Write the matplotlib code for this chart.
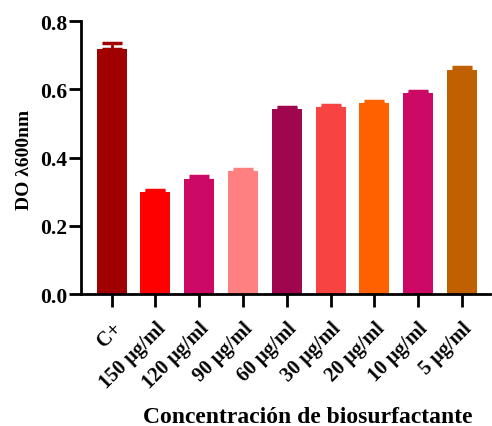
import matplotlib
matplotlib.use("Agg")
import matplotlib.pyplot as plt

categories = ["C+", "150 μg/ml", "120 μg/ml", "90 μg/ml", "60 μg/ml",
              "30 μg/ml", "20 μg/ml", "10 μg/ml", "5 μg/ml"]
means = [0.718, 0.298, 0.336, 0.362, 0.542, 0.547, 0.560, 0.588, 0.658]
errors = [0.019, 0.008, 0.009, 0.005, 0.007, 0.006, 0.006, 0.007, 0.007]
colors = ["#A00000", "#FF0000", "#CC0A66", "#FF8080", "#A0064E",
          "#F84343", "#FF6000", "#CC0A66", "#C06000"]

plt.rcParams["font.family"] = ["Liberation Serif", "DejaVu Serif"]
plt.rcParams["font.weight"] = "bold"

fig = plt.figure(figsize=(4.92, 4.27), dpi=100)
ax = fig.add_axes([0.1646, 0.309, 0.8314, 0.6393])

x = list(range(len(categories)))
ax.bar(x, means, width=0.685, color=colors, zorder=2)
for xi, m, e, c in zip(x, means, errors, colors):
    ax.errorbar(xi, m, yerr=[[0], [e]], fmt="none", ecolor=c,
                elinewidth=2, capsize=7, capthick=2.5, zorder=3)

ax.set_xlim(-0.70, 8.64)
ax.set_ylim(0, 0.8)
ax.set_yticks([0.0, 0.2, 0.4, 0.6, 0.8])
ax.set_yticklabels(["0.0", "0.2", "0.4", "0.6", "0.8"], fontsize=15.5, fontweight="bold")
ax.set_xticks(x)
ax.set_xticklabels(categories, rotation=45, ha="right", rotation_mode="anchor",
                   fontsize=14.5, fontweight="bold")

for side in ["top", "right"]:
    ax.spines[side].set_visible(False)
for side in ["left", "bottom"]:
    ax.spines[side].set_linewidth(2)
ax.tick_params(axis="both", width=2, length=9, color="black")
ax.tick_params(axis="x", pad=8)
ax.tick_params(axis="y", pad=1)

fig.text(25 / 492, 1 - 160 / 427, "DO λ600nm", rotation=90, ha="center", va="center",
         fontsize=14, fontweight="bold")
fig.text(308 / 492, 1 - 423 / 427, "Concentración de biosurfactante",
         ha="center", va="baseline", fontsize=17, fontweight="bold")

fig.savefig("out.png", dpi=100)
